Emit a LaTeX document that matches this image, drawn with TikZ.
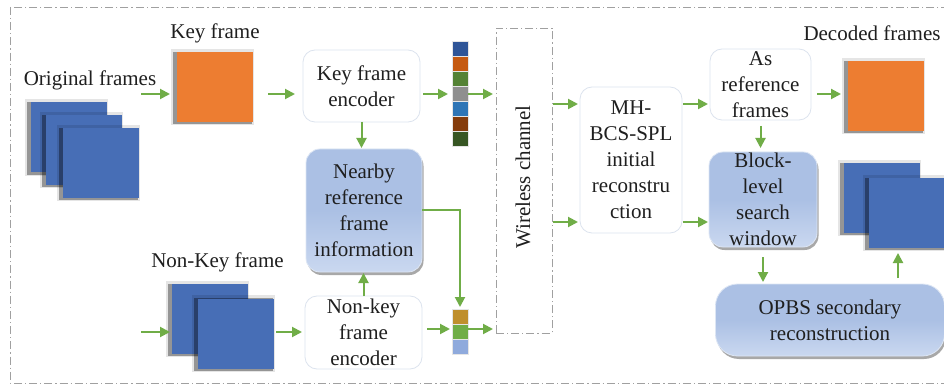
\documentclass[tikz,border=0pt]{standalone}
\usepackage{fontspec}
\setmainfont{Liberation Serif}
\usetikzlibrary{arrows.meta,shadows,calc}
\definecolor{arrgreen}{HTML}{70AD47}
\definecolor{frblue}{HTML}{476EB6}
\definecolor{frorange}{HTML}{ED7D31}
\definecolor{textc}{HTML}{1F1F1F}
\definecolor{boxedge}{HTML}{DCE3EE}
\definecolor{boxtop}{HTML}{ABC0E4}
\definecolor{boxbot}{HTML}{CAD8F0}
\definecolor{bordergray}{HTML}{A0A0A0}
\definecolor{bsA}{HTML}{2F5597}
\definecolor{bsB}{HTML}{C55A11}
\definecolor{bsC}{HTML}{548235}
\definecolor{bsD}{HTML}{8F8F8F}
\definecolor{bsE}{HTML}{2E75B6}
\definecolor{bsF}{HTML}{843C0C}
\definecolor{bsG}{HTML}{375623}
\definecolor{bsH}{HTML}{BF8F2D}
\definecolor{bsI}{HTML}{70AD47}
\definecolor{bsJ}{HTML}{8FAADC}
\begin{document}
\begin{tikzpicture}[x=1pt,y=-1pt,
  every node/.style={font=\fontsize{21}{26}\selectfont, text=textc},
  txt/.style={inner sep=0pt},
  frame/.style={minimum width=76pt, minimum height=70pt, inner sep=0pt, outer sep=0pt,
    general shadow={fill=black, opacity=0.10, shadow scale=1.09, shadow xshift=-2pt},
    general shadow={fill=black, opacity=0.35, shadow scale=1.04, shadow xshift=-2pt, shadow yshift=-1pt}},
  wbox/.style={draw=boxedge, fill=white, rounded corners=12pt, line width=0.8pt, align=center, inner sep=0pt, outer sep=0pt},
  bbox/.style={draw=white!60!boxtop, rounded corners=14pt, line width=0.8pt, top color=boxtop, bottom color=boxbot, middle color=boxtop,
    drop shadow={shadow xshift=1.5pt, shadow yshift=-3pt, opacity=0.45, fill=black!75},
    align=center, inner sep=0pt, outer sep=0pt},
  seg/.style={minimum width=16pt, minimum height=15pt, inner sep=0pt, outer sep=0pt, draw=white!80!gray, line width=0.3pt},
  arr/.style={draw=arrgreen, line width=2pt, -{Triangle[length=10pt,width=10pt]}},
  dashdot/.style={draw=bordergray, line width=0.8pt, dash pattern=on 8pt off 3pt on 1.2pt off 3pt}
]
\clip (0,0) rectangle (944,387);
\useasboundingbox (0,0) rectangle (944,387);
\fill[white] (0,0) rectangle (944,387);
\draw[dashdot] (10,7) rectangle (970,383);

% original frames
\node[txt] (ofl) at (90,80) {Original frames};
\node[frame, fill=frblue] (of1) at (68.5,137.5) {};
\node[frame, fill=frblue] (of2) at (84,150) {};
\node[frame, fill=frblue] (of3) at (101,163) {};

% key frame
\node[txt] (kfl) at (215,33) {Key frame};
\node[frame, fill=frorange] (kf) at (215,87) {};
\node[wbox, minimum width=117pt, minimum height=72pt] (kenc) at (361.5,86) {Key frame\\encoder};
\node[bbox, minimum width=116pt, minimum height=123pt] (nby) at (364,210.5) {Nearby\\reference\\frame\\information};

% key bitstream
\node[seg, fill=bsA] (ks1) at (460,48.5) {};
\node[seg, fill=bsB] (ks2) at (460,63.5) {};
\node[seg, fill=bsC] (ks3) at (460,78.5) {};
\node[seg, fill=bsD] (ks4) at (460,93.5) {};
\node[seg, fill=bsE] (ks5) at (460,108.5) {};
\node[seg, fill=bsF] (ks6) at (460,123.5) {};
\node[seg, fill=bsG] (ks7) at (460,138.5) {};

% wireless channel
\node[dashdot, minimum width=56pt, minimum height=305pt, inner sep=0pt, outer sep=0pt] (wc) at (524,180.5) {};
\node[txt, rotate=90] (wct) at (523,177) {Wireless channel};

% non-key frame
\node[txt] (nkl) at (217.5,262) {Non-Key frame};
\node[frame, fill=frblue] (nk1) at (210,319) {};
\node[frame, fill=frblue] (nk2) at (236,333.5) {};
\node[wbox, minimum width=117pt, minimum height=73pt] (nkenc) at (363.5,332.5) {Non-key\\frame\\encoder};

% non-key bitstream
\node[seg, fill=bsH] (ns1) at (460,316.5) {};
\node[seg, fill=bsI] (ns2) at (460,331.5) {};
\node[seg, fill=bsJ] (ns3) at (460,346.5) {};

% decoder side
\node[wbox, minimum width=102pt, minimum height=146pt] (mh) at (631,160) {MH-\\BCS-SPL\\initial\\reconstru\\ction};
\node[wbox, minimum width=101pt, minimum height=71pt] (asr) at (760.5,84.5) {As\\reference\\frames};
\node[bbox, minimum width=108pt, minimum height=95pt] (blk) at (763,199.5) {Block-\\level\\search\\window};
\node[txt] (dfl) at (872,33) {Decoded frames};
\node[frame, fill=frorange] (df) at (886,96) {};
\node[frame, fill=frblue] (db1) at (882,198) {};
\node[frame, fill=frblue] (db2) at (907,213) {};
\node[bbox, rounded corners=22pt, minimum width=229pt, minimum height=72pt] (opbs) at (830,320) {OPBS secondary\\reconstruction};

% connectors
\coordinate (a1s) at (141,94);
\coordinate (a8s) at (141,332);
\coordinate (ya) at (0,104);
\coordinate (yb) at (0,222);
\coordinate (yc) at (0,94);
\coordinate (yd) at (0,329);
\coordinate (xd) at (898,0);

\draw[arr, shorten >=7pt] (a1s) -- (a1s -| kf.west);
\draw[arr, shorten <=15pt, shorten >=8pt] (kf.east |- a1s) -- (kenc.west |- a1s);
\draw[arr, shorten <=3pt, shorten >=4pt] (kenc.east |- a1s) -- (ks4.west |- a1s);
\draw[arr, shorten >=3pt] (ks4.east |- a1s) -- (wc.west |- a1s);
\draw[arr, shorten >=1pt] (kenc.south) -- (kenc.south |- nby.north);
\draw[arr, shorten >=1pt] (nkenc.north) -- (nkenc.north |- nby.south);
\draw[arr, shorten >=2pt] (nby.east) -| (ns1.north);
\draw[arr, shorten >=2pt] (a8s) -- (a8s -| nk1.west);
\draw[arr, shorten <=2pt, shorten >=3pt] (nk2.east |- a8s) -- (nkenc.west |- a8s);
\draw[arr, shorten <=5pt, shorten >=2pt] (nkenc.east |- yd) -- (ns2.west |- yd);
\draw[arr, shorten >=3pt] (ns2.east |- yd) -- (wc.west |- yd);
\draw[arr, shorten <=1pt, shorten >=2pt] (wc.east |- ya) -- (mh.west |- ya);
\draw[arr, shorten <=1pt, shorten >=2pt] (wc.east |- yb) -- (mh.west |- yb);
\draw[arr, shorten <=1pt, shorten >=2pt] (mh.east |- ya) -- (asr.west |- ya);
\draw[arr, shorten <=1pt, shorten >=1pt] (mh.east |- yb) -- (blk.west |- yb);
\draw[arr, shorten <=6pt, shorten >=4pt] (asr.south) -- (asr.south |- blk.north);
\draw[arr, shorten <=6pt, shorten >=7pt] (asr.east |- yc) -- (df.west |- yc);
\draw[arr, shorten <=10pt, shorten >=2pt] (blk.south) -- (blk.south |- opbs.north);
\draw[arr, shorten <=6pt, shorten >=5pt] (xd |- opbs.north) -- (xd |- db2.south);
\end{tikzpicture}
\end{document}
